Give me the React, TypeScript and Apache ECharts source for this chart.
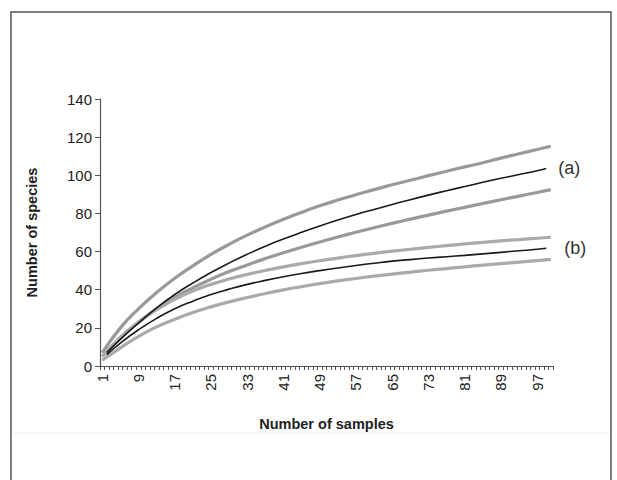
import React, { useEffect, useRef } from "react";
import * as echarts from "echarts";

const samples: string[] = Array.from({ length: 100 }, (_, i) => String(i + 1));
const yTicks = [0, 20, 40, 60, 80, 100, 120, 140];

const grayX = [1, 5, 9, 13, 17, 21, 25, 29, 33, 37, 41, 45, 49, 53, 57, 61, 65, 69, 73, 77, 81, 85, 89, 93, 97, 100];
const blackX = [2, 5, 9, 13, 17, 21, 25, 29, 33, 37, 41, 45, 49, 53, 57, 61, 65, 69, 73, 77, 81, 85, 89, 93, 97, 99];

const aUpper = [7, 20, 30, 38.5, 46, 52.5, 58.5, 63.8, 68.6, 72.9, 76.9, 80.6, 84, 87, 89.8, 92.5, 95, 97.4, 99.8, 102.1, 104.4, 106.6, 109, 111.3, 113.5, 115.2];
const aMean = [7, 14, 22.5, 30.5, 37.5, 43.5, 49, 54, 58.6, 62.8, 66.6, 70.1, 73.4, 76.5, 79.4, 82.1, 84.7, 87.2, 89.6, 91.9, 94.1, 96.3, 98.4, 100.4, 102.4, 103.6];
const aLower = [5, 15, 23, 30, 36, 41, 45.5, 49.5, 53, 56.3, 59.4, 62.3, 65, 67.6, 70.1, 72.5, 74.8, 77, 79.1, 81.2, 83.2, 85.2, 87.2, 89.1, 91, 92.5];

const bUpper = [5, 15, 23, 29.5, 35, 39.3, 42.8, 45.6, 48, 50.1, 52, 53.7, 55.2, 56.6, 57.9, 59.1, 60.2, 61.2, 62.2, 63.1, 64, 64.8, 65.6, 66.3, 67, 67.5];
const bMean = [6, 12, 19, 25, 30, 34, 37.5, 40.3, 42.8, 44.9, 46.8, 48.5, 50, 51.4, 52.7, 53.9, 55, 55.8, 56.6, 57.3, 58, 58.8, 59.6, 60.4, 61.2, 61.7];
const bLower = [3, 9.5, 15.5, 20.5, 24.5, 28, 31, 33.6, 35.9, 38, 39.9, 41.6, 43.2, 44.6, 45.9, 47.1, 48.2, 49.2, 50.2, 51.1, 52, 52.9, 53.7, 54.5, 55.3, 55.9];

const pairs = (xs: number[], ys: number[]) => xs.map((x, i) => [x - 1, ys[i]]);

export default function App() {
  const ref = useRef<HTMLDivElement>(null);
  useEffect(() => {
    document.body.style.margin = "0";
    if (!ref.current) return;
    const chart = echarts.init(ref.current, null, { renderer: "svg" });
    const font = "Liberation Sans, Arial, sans-serif";
    const grayLine = (name: string, ys: number[], color: string) => ({
      name,
      type: "line",
      data: pairs(grayX, ys),
      smooth: 0.5,
      showSymbol: false,
      lineStyle: { color, width: 3.2 },
      z: 2,
    });
    const blackLine = (name: string, ys: number[], label: string, dist: number) => ({
      name,
      type: "line",
      data: pairs(blackX, ys),
      smooth: 0.5,
      showSymbol: false,
      lineStyle: { color: "#1a1a1a", width: 1.6 },
      z: 3,
      endLabel: {
        show: true,
        formatter: label,
        distance: dist,
        fontFamily: font,
        fontSize: 18,
        color: "#333",
      },
    });
    chart.setOption({
      animation: false,
      backgroundColor: "#fff",
      graphic: [
        {
          type: "rect",
          shape: { x: 11, y: 12, width: 600, height: 480 },
          style: { fill: "none", stroke: "#555", lineWidth: 1.5 },
          silent: true,
        },
        {
          type: "line",
          shape: { x1: 13, y1: 433, x2: 609, y2: 433 },
          style: { stroke: "#eeeeee", lineWidth: 1 },
          silent: true,
        },
      ],
      grid: { left: 100, top: 99, right: 64, bottom: 114 },
      xAxis: {
        type: "category",
        data: samples,
        boundaryGap: true,
        name: "Number of samples",
        nameLocation: "middle",
        nameGap: 50,
        nameTextStyle: { fontFamily: font, fontSize: 14.5, fontWeight: "bold", color: "#222" },
        axisLine: { lineStyle: { color: "#555", width: 1.2 } },
        axisTick: { show: true, interval: 0, length: 4, lineStyle: { color: "#555" } },
        axisLabel: {
          interval: 7,
          rotate: 90,
          fontFamily: font,
          fontSize: 15,
          color: "#222",
          margin: 8,
        },
        splitLine: { show: false },
      },
      yAxis: {
        type: "value",
        min: 0,
        max: 140,
        interval: 20,
        name: "Number of species",
        nameLocation: "middle",
        nameGap: 61,
        nameTextStyle: { fontFamily: font, fontSize: 14.5, fontWeight: "bold", color: "#222" },
        axisLine: { show: true, lineStyle: { color: "#555", width: 1.2 } },
        axisTick: { show: true, length: 5, lineStyle: { color: "#555" } },
        axisLabel: {
          fontFamily: font,
          fontSize: 15,
          color: "#222",
          margin: 8,
          formatter: (v: number) => (yTicks.includes(v) ? String(v) : ""),
        },
        splitLine: { show: false },
      },
      series: [
        grayLine("a upper", aUpper, "#999999"),
        grayLine("a lower", aLower, "#999999"),
        grayLine("b upper", bUpper, "#aaaaaa"),
        grayLine("b lower", bLower, "#aaaaaa"),
        blackLine("a", aMean, "(a)", 12),
        blackLine("b", bMean, "(b)", 18),
      ],
    });
    return () => chart.dispose();
  }, []);
  return <div ref={ref} style={{ width: 617, height: 480 }} />;
}
